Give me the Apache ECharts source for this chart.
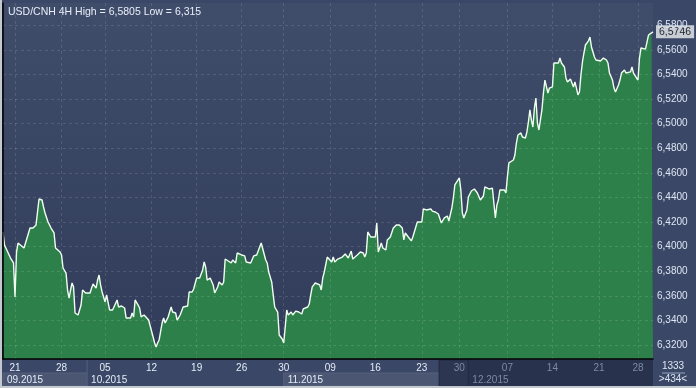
<!DOCTYPE html>
<html><head><meta charset="utf-8">
<script src="https://cdn.jsdelivr.net/npm/echarts@6/dist/echarts.min.js"></script>
<style>html,body{margin:0;padding:0;background:#3b4767}#c{width:696px;height:388px}</style>
</head><body><div id="c"></div><script>
// 4H bar index (0..433) and close price
const bars = [0,1,2,5,7,8,9,10,11,14,16,18,19,20,22,23,24,26,27,28,30,32,34,35,38,39,40,42,43,44,45,46,47,48,50,51,52,53,55,58,59,60,62,63,64,65,66,68,69,70,71,73,76,77,79,81,82,85,86,87,88,90,91,92,94,95,97,98,100,101,102,103,104,106,107,108,110,112,113,115,116,118,120,123,124,126,127,129,131,133,134,135,136,138,140,141,143,144,146,147,148,150,152,153,155,156,157,159,161,162,163,165,167,169,170,172,173,175,176,177,179,180,181,183,184,185,186,187,188,189,190,192,193,195,197,199,200,203,204,205,206,208,209,211,212,213,214,216,217,219,220,221,223,226,228,230,232,233,236,238,240,241,242,243,245,246,248,249,250,252,253,255,256,258,260,262,263,264,266,267,268,270,272,273,275,276,279,280,282,283,285,286,288,290,292,294,296,297,299,300,301,302,304,305,306,307,308,309,310,312,314,316,318,320,321,322,324,326,327,328,329,330,331,332,334,335,336,337,338,340,341,342,343,345,346,348,349,350,351,352,353,354,355,356,357,358,359,360,361,362,363,364,366,367,368,370,371,372,374,375,376,378,379,380,381,382,383,384,385,386,387,388,390,391,392,393,394,395,396,398,400,402,403,404,406,407,408,410,411,412,414,415,416,418,419,420,421,422,423,424,425,426,428,429,430,432,433];
const closes = [6.4119,6.4013,6.3997,6.3907,6.3867,6.3590,6.3956,6.4029,6.4037,6.3989,6.4070,6.4151,6.4159,6.4151,6.4176,6.4281,6.4387,6.4379,6.4322,6.4273,6.4200,6.4151,6.4111,6.3989,6.3956,6.3932,6.3826,6.3785,6.3647,6.3582,6.3647,6.3704,6.3672,6.3460,6.3444,6.3428,6.3525,6.3647,6.3623,6.3623,6.3663,6.3696,6.3663,6.3728,6.3769,6.3688,6.3631,6.3550,6.3607,6.3607,6.3485,6.3485,6.3566,6.3509,6.3517,6.3501,6.3420,6.3420,6.3460,6.3428,6.3566,6.3525,6.3501,6.3428,6.3444,6.3428,6.3403,6.3403,6.3265,6.3216,6.3184,6.3216,6.3241,6.3379,6.3420,6.3379,6.3428,6.3509,6.3468,6.3460,6.3403,6.3444,6.3509,6.3517,6.3631,6.3631,6.3655,6.3745,6.3745,6.3810,6.3875,6.3834,6.3728,6.3745,6.3688,6.3623,6.3672,6.3712,6.3688,6.3712,6.3899,6.3883,6.3867,6.3891,6.3867,6.3948,6.3948,6.3932,6.3924,6.3875,6.3891,6.3867,6.3924,6.3932,6.3932,6.4029,6.4013,6.3891,6.3867,6.3793,6.3712,6.3607,6.3509,6.3468,6.3281,6.3281,6.3249,6.3216,6.3346,6.3485,6.3444,6.3468,6.3444,6.3476,6.3468,6.3452,6.3493,6.3509,6.3533,6.3607,6.3672,6.3704,6.3712,6.3688,6.3647,6.3745,6.3793,6.3915,6.3899,6.3875,6.3915,6.3875,6.3899,6.3915,6.3940,6.3907,6.3964,6.3899,6.3932,6.3956,6.3948,6.3915,6.3948,6.4119,6.4078,6.4070,6.4078,6.4192,6.3956,6.4029,6.3989,6.3972,6.4054,6.4078,6.4151,6.4176,6.4184,6.4176,6.4151,6.4054,6.4111,6.4078,6.4046,6.4078,6.4159,6.4200,6.4200,6.4306,6.4298,6.4314,6.4306,6.4289,6.4281,6.4265,6.4192,6.4233,6.4249,6.4208,6.4314,6.4395,6.4501,6.4485,6.4558,6.4460,6.4273,6.4233,6.4249,6.4298,6.4403,6.4452,6.4468,6.4436,6.4379,6.4411,6.4485,6.4476,6.4468,6.4476,6.4354,6.4233,6.4338,6.4379,6.4460,6.4444,6.4460,6.4436,6.4566,6.4680,6.4672,6.4704,6.4745,6.4842,6.4907,6.4924,6.4891,6.4883,6.4932,6.5013,6.5111,6.5029,6.4972,6.5127,6.5208,6.5005,6.4948,6.4948,6.5111,6.5249,6.5354,6.5363,6.5249,6.5289,6.5298,6.5493,6.5493,6.5493,6.5533,6.5493,6.5460,6.5371,6.5338,6.5363,6.5379,6.5298,6.5338,6.5289,6.5233,6.5257,6.5395,6.5501,6.5574,6.5639,6.5672,6.5704,6.5623,6.5615,6.5541,6.5517,6.5509,6.5509,6.5533,6.5517,6.5493,6.5411,6.5354,6.5289,6.5257,6.5314,6.5354,6.5411,6.5436,6.5411,6.5395,6.5420,6.5460,6.5411,6.5395,6.5371,6.5354,6.5533,6.5615,6.5623,6.5606,6.5663,6.5720,6.5737,6.5746];
const dayTickBars = [8,39,68,99,129,159,187,218,248,279,304,336,366,397,423];
const dayTickLabels = ['21','28','05','12','19','26','30','09','16','23','30','07','14','21','28'];
const monthStartBars = [0,56,187,310];
const monthLabels = ['09.2015','10.2015','11.2015','12.2015'];
const priceTicks = [6.32,6.34,6.36,6.38,6.40,6.42,6.44,6.46,6.48,6.50,6.52,6.54,6.56,6.58];
const titleText = 'USD/CNH 4H High = 6,5805 Low = 6,315';
const infoTop = '1333', infoBottom = '>434<';

const fmt = v => v.toFixed(4).replace('.', ',');
const FONT = 'Liberation Sans, Arial, sans-serif';
const chart = echarts.init(document.getElementById('c'));
const shadeFrom = 290.5;
chart.setOption({
  backgroundColor: '#3b4767',
  animation: false,
  title: { text: titleText, left: 3, top: 2, textStyle: { color: '#e8eef8', fontSize: 10.5, fontWeight: 'normal', fontFamily: FONT } },
  grid: { left: 3, right: 43, top: 3, bottom: 29, show: true, borderWidth: 0,
    backgroundColor: { type: 'linear', x: 0, y: 0, x2: 0, y2: 1, colorStops: [{ offset: 0, color: '#3f4c6a' }, { offset: 1, color: '#303c5a' }] } },
  xAxis: [{
    type: 'value', min: 0, max: 433, z: 5,
    axisLine: { show: true, lineStyle: { color: '#000', width: 1.5 } },
    axisTick: { show: false, customValues: dayTickBars },
    axisLabel: { customValues: dayTickBars, margin: 4, fontSize: 10, fontFamily: FONT,
      color: v => v >= shadeFrom ? '#7c8aa3' : '#e4ecf6',
      formatter: v => dayTickLabels[dayTickBars.indexOf(v)] },
    splitLine: { show: true, lineStyle: { color: 'rgba(255,255,255,0.12)', type: [3, 3] } }
  }, {
    type: 'value', min: 0, max: 433, position: 'bottom', offset: 12, z: 5,
    axisLine: { show: false }, axisTick: { show: false, customValues: monthStartBars }, splitLine: { show: false },
    axisLabel: { customValues: monthStartBars, align: 'left', margin: 4, fontSize: 10, fontFamily: FONT, padding: [0, 0, 0, 4],
      color: v => v >= shadeFrom ? '#7c8aa3' : '#e4ecf6',
      formatter: v => monthLabels[monthStartBars.indexOf(v)] }
  }],
  yAxis: {
    type: 'value', position: 'right', min: 6.32 - 14 / 1230, max: 6.32 + 342 / 1230, z: 5,
    axisLine: { show: true, lineStyle: { color: '#000', width: 1.5 } },
    axisTick: { show: false, customValues: priceTicks },
    axisLabel: { customValues: priceTicks, margin: 4, fontSize: 10, fontFamily: FONT, color: '#dce6f2', formatter: fmt },
    splitLine: { show: true, lineStyle: { color: 'rgba(255,255,255,0.12)', type: [3, 3] } }
  },
  series: [{
    type: 'line', data: bars.map((b, i) => [b, closes[i]]), symbol: 'none', z: 3,
    lineStyle: { color: '#f0fff0', width: 1.4 },
    areaStyle: { color: '#2d8049', opacity: 1, origin: 'start' },
    endLabel: { show: true, distance: 3, formatter: p => fmt(p.value[1]), backgroundColor: '#c8ccd3', color: '#1c2232',
      fontSize: 10.5, fontFamily: FONT, padding: [1, 3, 1, 3] }
  }]
});

const px = v => chart.convertToPixel({ xAxisIndex: 0 }, v);
const x0 = px(0), xEnd = px(433), xs = px(shadeFrom);
const els = [];
// month row boxes (lighter)
[[0, 56], [187, shadeFrom]].forEach(([a, b]) => {
  els.push({ type: 'rect', z: -1, shape: { x: px(a), y: 373, width: px(b) - px(a), height: 13 }, style: { fill: '#4b5672', stroke: '#56617c', lineWidth: 1 } });
});
// separator in day row at October start
els.push({ type: 'line', z: -1, shape: { x1: px(56), y1: 360, x2: px(56), y2: 373 }, style: { stroke: '#56617c', lineWidth: 1 } });
// shaded (dark) region
els.push({ type: 'rect', z: -1, shape: { x: xs, y: 360, width: xEnd - xs, height: 26 }, style: { fill: '#28324c' } });
els.push({ type: 'rect', z: -1, shape: { x: xs, y: 360, width: px(310) - xs, height: 26 }, style: { fill: '#2c3651', stroke: '#222a40', lineWidth: 1 } });
// border frame
els.push({ type: 'rect', z: 20, shape: { x: 0, y: 0, width: 2, height: 388 }, style: { fill: '#c4c8cf' } });
els.push({ type: 'rect', z: 20, shape: { x: 0, y: 386, width: 696, height: 2 }, style: { fill: '#c4c8cf' } });
// info box bottom-right
els.push({ type: 'text', z: 10, style: { text: infoTop, x: 673, y: 366, align: 'center', verticalAlign: 'middle', fill: '#dce6f2', font: '10px ' + FONT } });
els.push({ type: 'line', z: 10, shape: { x1: 662, y1: 373, x2: 685, y2: 373 }, style: { stroke: '#9aa6bb', lineWidth: 1 } });
els.push({ type: 'text', z: 10, style: { text: infoBottom, x: 673, y: 379.5, align: 'center', verticalAlign: 'middle', fill: '#dce6f2', font: '10px ' + FONT } });
chart.setOption({ graphic: { elements: els } });
</script></body></html>
